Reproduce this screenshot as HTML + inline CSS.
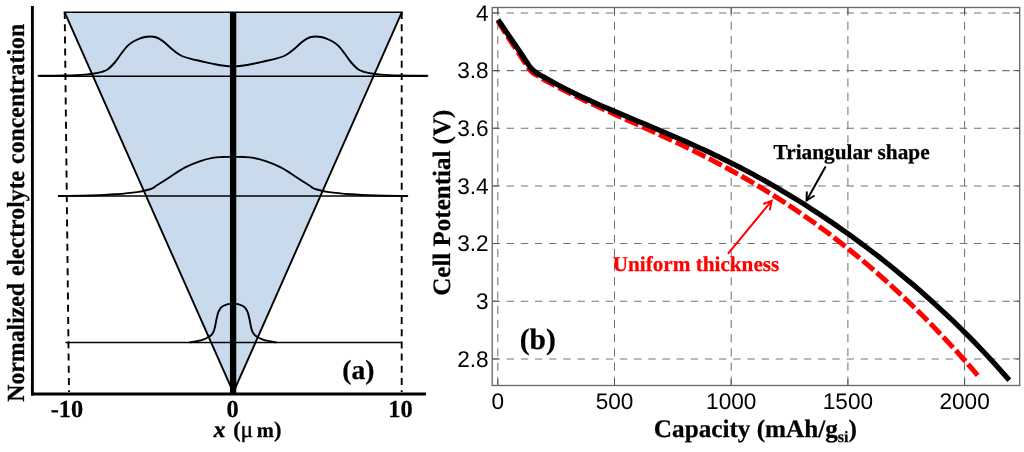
<!DOCTYPE html>
<html><head><meta charset="utf-8"><title>Figure</title>
<style>
html,body{margin:0;padding:0;background:#fff;}
svg{display:block;will-change:transform;opacity:0.999;}
text{text-rendering:geometricPrecision;}
.s{font-family:"Liberation Serif","DejaVu Serif",serif;font-weight:bold;}
.s text{stroke:#000;stroke-width:0.25px;}
.s text.r{stroke:#f00;}
.a{font-family:"Liberation Sans","DejaVu Sans",sans-serif;font-size:22.6px;fill:#000;}
</style></head>
<body>
<svg width="1024" height="452" viewBox="0 0 1024 452">
<rect width="1024" height="452" fill="#fff"/>
<!-- LEFT PANEL -->
<polygon points="64.6,12.2 401.9,12.2 233.3,392.5" fill="#cadaed"/>
<polyline points="64.6,12.2 233.3,392.5 401.9,12.2" fill="none" stroke="#000" stroke-width="1.9" stroke-linejoin="miter"/>
<line x1="63.8" y1="12.2" x2="402.7" y2="12.2" stroke="#000" stroke-width="1.4"/>
<g stroke="#000" stroke-width="1.5" fill="none">
<line x1="38.5" y1="76.2" x2="427.5" y2="76.2"/>
<line x1="58.7" y1="196" x2="407.3" y2="196"/>
<line x1="65.4" y1="342.6" x2="401.5" y2="342.6"/>
</g>
<g stroke="#000" stroke-width="1.9" fill="none" stroke-linejoin="round" stroke-linecap="round">
<path d="M38.5 75.6 C42.9 75.6 57.2 75.6 65.0 75.4 C72.8 75.2 80.3 74.9 85.0 74.6 C89.7 74.3 90.5 74.1 93.3 73.6 C96.1 73.1 99.6 72.5 102.0 71.8 C104.4 71.1 105.7 70.9 107.9 69.3 C110.1 67.7 113.0 64.5 115.2 62.0 C117.4 59.5 119.0 56.6 121.0 54.0 C123.0 51.4 125.3 48.2 127.3 46.2 C129.3 44.2 131.0 43.1 133.0 41.8 C135.0 40.5 137.5 39.4 139.5 38.6 C141.5 37.8 143.2 37.4 145.0 37.0 C146.8 36.6 148.7 36.5 150.4 36.5 C152.1 36.5 153.6 36.6 155.0 37.0 C156.4 37.4 157.5 37.8 159.0 38.6 C160.5 39.4 162.4 40.7 164.0 42.0 C165.6 43.3 166.9 44.6 168.7 46.2 C170.5 47.8 173.0 50.0 175.0 51.5 C177.0 53.0 178.4 54.3 180.9 55.5 C183.4 56.7 186.8 57.7 190.0 58.6 C193.2 59.5 196.1 60.1 200.3 61.0 C204.5 61.9 210.1 63.3 215.0 64.2 C219.9 65.1 227.0 66.0 230.0 66.4 C233.0 66.8 232.0 66.6 233.0 66.6 C234.0 66.6 233.0 66.8 236.0 66.4 C239.0 66.0 246.1 65.1 251.0 64.2 C255.9 63.3 261.5 61.9 265.7 61.0 C269.9 60.1 272.8 59.5 276.0 58.6 C279.2 57.7 282.6 56.7 285.1 55.5 C287.6 54.3 289.0 53.0 291.0 51.5 C293.0 50.0 295.5 47.8 297.3 46.2 C299.1 44.6 300.4 43.3 302.0 42.0 C303.6 40.7 305.5 39.4 307.0 38.6 C308.5 37.8 309.6 37.4 311.0 37.0 C312.4 36.6 313.9 36.5 315.6 36.5 C317.3 36.5 319.2 36.6 321.0 37.0 C322.8 37.4 324.5 37.8 326.5 38.6 C328.5 39.4 331.0 40.5 333.0 41.8 C335.0 43.1 336.7 44.2 338.7 46.2 C340.7 48.2 343.0 51.4 345.0 54.0 C347.0 56.6 348.6 59.5 350.8 62.0 C353.0 64.5 355.9 67.7 358.1 69.3 C360.3 70.9 361.6 71.1 364.0 71.8 C366.4 72.5 369.9 73.1 372.7 73.6 C375.5 74.1 376.3 74.3 381.0 74.6 C385.7 74.9 393.2 75.2 401.0 75.4 C408.8 75.6 423.1 75.6 427.5 75.6"/>
<path d="M58.7 196.0 C64.0 195.9 81.4 195.8 90.8 195.5 C100.2 195.2 107.5 194.9 115.2 194.3 C122.9 193.7 131.3 192.9 137.0 192.1 C142.7 191.3 146.5 190.2 149.2 189.5 C151.9 188.8 151.8 188.7 153.0 188.0 C154.2 187.3 154.8 186.6 156.5 185.5 C158.2 184.4 160.6 183.1 163.0 181.5 C165.4 179.9 167.3 178.6 171.1 176.2 C174.9 173.8 180.8 169.7 185.7 167.2 C190.6 164.7 195.8 162.6 200.3 161.1 C204.8 159.6 208.8 158.6 212.5 157.9 C216.2 157.2 218.8 157.2 222.2 157.0 C225.6 156.8 229.4 156.9 233.0 156.9 C236.6 156.9 240.4 156.8 243.8 157.0 C247.2 157.2 249.8 157.2 253.5 157.9 C257.1 158.6 261.2 159.6 265.7 161.1 C270.2 162.6 275.4 164.7 280.3 167.2 C285.2 169.7 291.1 173.8 294.9 176.2 C298.7 178.6 300.6 179.9 303.0 181.5 C305.4 183.1 307.8 184.4 309.5 185.5 C311.2 186.6 311.8 187.3 313.0 188.0 C314.2 188.7 314.1 188.8 316.8 189.5 C319.5 190.2 323.3 191.3 329.0 192.1 C334.7 192.9 343.1 193.7 350.8 194.3 C358.5 194.9 365.8 195.2 375.2 195.5 C384.6 195.8 401.9 195.9 407.3 196.0"/>
<path d="M189.9 342.4 C191.4 342.1 196.7 341.3 199.2 340.7 C201.7 340.1 203.4 339.4 205.0 338.8 C206.6 338.2 207.4 337.7 208.5 337.0 C209.6 336.3 210.6 335.8 211.5 334.8 C212.4 333.8 213.2 332.7 213.8 331.2 C214.4 329.7 214.8 327.9 215.2 326.0 C215.6 324.1 216.0 321.7 216.4 319.8 C216.8 317.9 217.2 316.1 217.6 314.5 C218.0 312.9 218.5 311.6 219.1 310.5 C219.7 309.4 220.3 308.4 221.0 307.6 C221.7 306.9 222.2 306.5 223.1 306.0 C224.0 305.5 225.3 305.0 226.5 304.6 C227.7 304.2 228.9 304.0 230.0 303.9 C231.1 303.8 232.0 303.7 233.0 303.7 C234.0 303.7 234.9 303.8 236.0 303.9 C237.1 304.0 238.3 304.2 239.5 304.6 C240.7 305.0 242.0 305.5 242.9 306.0 C243.8 306.5 244.3 306.9 245.0 307.6 C245.7 308.4 246.3 309.4 246.9 310.5 C247.5 311.6 248.0 312.9 248.4 314.5 C248.8 316.1 249.2 317.9 249.6 319.8 C250.0 321.7 250.4 324.1 250.8 326.0 C251.2 327.9 251.6 329.7 252.2 331.2 C252.8 332.7 253.6 333.8 254.5 334.8 C255.4 335.8 256.4 336.3 257.5 337.0 C258.6 337.7 259.4 338.2 261.0 338.8 C262.6 339.4 264.3 340.1 266.8 340.7 C269.3 341.3 274.6 342.1 276.1 342.4"/>
</g>
<g stroke="#000" stroke-width="1.9" stroke-dasharray="7 5.2" fill="none">
<line x1="64.7" y1="12" x2="69" y2="392"/>
<line x1="401.7" y1="12" x2="401.7" y2="392"/>
</g>
<line x1="233.1" y1="12" x2="233.1" y2="393" stroke="#000" stroke-width="6.3"/>
<line x1="32.4" y1="6" x2="32.4" y2="395.5" stroke="#000" stroke-width="2.9"/>
<line x1="31" y1="394" x2="426" y2="394" stroke="#000" stroke-width="3.2"/>
<g class="s" font-size="24.4" fill="#000">
<text x="67" y="417" text-anchor="middle">-10</text>
<text x="232.5" y="417" text-anchor="middle">0</text>
<text x="400.5" y="417" text-anchor="middle">10</text>
<text y="437" font-size="22.5"><tspan x="213.8" font-style="italic" font-size="23" stroke="#000" stroke-width="0.55">x</tspan><tspan x="233.2">(</tspan><tspan x="240.4" font-weight="normal" font-size="23.5" stroke="#000" stroke-width="0.4">μ</tspan><tspan x="256.8" font-size="20.5">m</tspan><tspan x="274">)</tspan></text>
<text x="358.3" y="379.2" text-anchor="middle" font-size="27.5">(a)</text>
<text transform="translate(23.9,0) rotate(-90) scale(0.967,1)" font-size="24.6"><tspan x="-415.5">Normalized</tspan> <tspan x="-285.5">electrolyte</tspan> <tspan x="-169.5">concentration</tspan></text>
</g>
<!-- RIGHT PANEL -->
<g stroke="#666" stroke-width="0.95" stroke-dasharray="8.2 6" fill="none"><line x1="497.8" y1="7.5" x2="497.8" y2="385.5"/><line x1="614.5" y1="7.5" x2="614.5" y2="385.5"/><line x1="731.2" y1="7.5" x2="731.2" y2="385.5"/><line x1="847.9" y1="7.5" x2="847.9" y2="385.5"/><line x1="964.6" y1="7.5" x2="964.6" y2="385.5"/></g>
<g stroke="#747474" stroke-width="1.05" stroke-dasharray="7.4 6.76" fill="none"><line x1="492.5" y1="12.9" x2="1019.7" y2="12.9"/><line x1="492.5" y1="70.6" x2="1019.7" y2="70.6"/><line x1="492.5" y1="128.2" x2="1019.7" y2="128.2"/><line x1="492.5" y1="185.9" x2="1019.7" y2="185.9"/><line x1="492.5" y1="243.5" x2="1019.7" y2="243.5"/><line x1="492.5" y1="301.2" x2="1019.7" y2="301.2"/><line x1="492.5" y1="358.9" x2="1019.7" y2="358.9"/></g>
<g stroke="#444" stroke-width="0.85" fill="none"><line x1="497.8" y1="7.5" x2="497.8" y2="13.8"/><line x1="497.8" y1="385.5" x2="497.8" y2="379.2"/><line x1="614.5" y1="7.5" x2="614.5" y2="13.8"/><line x1="614.5" y1="385.5" x2="614.5" y2="379.2"/><line x1="731.2" y1="7.5" x2="731.2" y2="13.8"/><line x1="731.2" y1="385.5" x2="731.2" y2="379.2"/><line x1="847.9" y1="7.5" x2="847.9" y2="13.8"/><line x1="847.9" y1="385.5" x2="847.9" y2="379.2"/><line x1="964.6" y1="7.5" x2="964.6" y2="13.8"/><line x1="964.6" y1="385.5" x2="964.6" y2="379.2"/><line x1="492.2" y1="12.9" x2="498.7" y2="12.9"/><line x1="1019.7" y1="12.9" x2="1013.2" y2="12.9"/><line x1="492.2" y1="70.6" x2="498.7" y2="70.6"/><line x1="1019.7" y1="70.6" x2="1013.2" y2="70.6"/><line x1="492.2" y1="128.2" x2="498.7" y2="128.2"/><line x1="1019.7" y1="128.2" x2="1013.2" y2="128.2"/><line x1="492.2" y1="185.9" x2="498.7" y2="185.9"/><line x1="1019.7" y1="185.9" x2="1013.2" y2="185.9"/><line x1="492.2" y1="243.5" x2="498.7" y2="243.5"/><line x1="1019.7" y1="243.5" x2="1013.2" y2="243.5"/><line x1="492.2" y1="301.2" x2="498.7" y2="301.2"/><line x1="1019.7" y1="301.2" x2="1013.2" y2="301.2"/><line x1="492.2" y1="358.9" x2="498.7" y2="358.9"/><line x1="1019.7" y1="358.9" x2="1013.2" y2="358.9"/></g>
<rect x="492.2" y="7.5" width="527.5" height="378" fill="none" stroke="#6a6a6a" stroke-width="1.35"/>
<path d="M497.8 20.6 C499.2 22.9 503.5 30.0 506.4 34.6 C509.3 39.2 512.4 43.8 515.2 48.0 C518.0 52.2 520.9 56.5 523.2 60.0 C525.6 63.5 527.7 67.1 529.3 69.2 C530.9 71.3 530.8 71.3 532.6 72.6 C534.4 73.9 537.8 75.8 540.0 77.2 C542.2 78.6 542.7 78.9 546.0 80.8 C549.3 82.6 555.3 85.9 560.0 88.3 C564.7 90.7 569.3 93.0 574.0 95.3 C578.7 97.6 583.3 99.9 588.0 102.1 C592.7 104.3 597.3 106.4 602.0 108.6 C606.7 110.7 611.3 112.8 616.0 115.0 C620.7 117.1 625.3 119.1 630.0 121.2 C634.7 123.3 639.3 125.4 644.0 127.6 C648.7 129.7 653.3 131.8 658.0 133.9 C662.7 136.1 667.3 138.2 672.0 140.4 C676.7 142.6 681.3 144.8 686.0 147.1 C690.7 149.4 695.3 151.7 700.0 154.0 C704.7 156.4 709.3 158.7 714.0 161.2 C718.7 163.6 723.3 166.1 728.0 168.7 C732.7 171.2 737.3 173.8 742.0 176.5 C746.7 179.1 751.3 181.8 756.0 184.6 C760.7 187.4 765.3 190.3 770.0 193.2 C774.7 196.1 779.3 199.1 784.0 202.1 C788.7 205.2 793.3 208.3 798.0 211.5 C802.7 214.7 807.3 218.0 812.0 221.3 C816.7 224.6 821.3 228.1 826.0 231.6 C830.7 235.1 835.3 238.6 840.0 242.3 C844.7 245.9 849.3 249.7 854.0 253.5 C858.7 257.3 863.3 261.2 868.0 265.2 C872.7 269.1 877.3 273.2 882.0 277.3 C886.7 281.5 891.3 285.7 896.0 290.1 C900.7 294.4 905.3 298.8 910.0 303.3 C914.7 307.8 919.3 312.4 924.0 317.1 C928.7 321.8 933.3 326.5 938.0 331.4 C942.7 336.3 947.3 341.3 952.0 346.4 C956.7 351.4 961.3 356.6 966.0 361.9 C970.7 367.3 977.9 375.7 980.3 378.5" fill="none" stroke="#f00" stroke-width="5" stroke-dasharray="14.5 4"/>
<path d="M498.1 19.6 C499.6 21.8 504.0 28.6 507.0 33.0 C510.0 37.4 513.2 41.8 516.0 46.0 C518.8 50.2 521.6 54.5 524.0 58.0 C526.4 61.5 528.8 65.2 530.4 67.3 C532.0 69.4 531.9 69.2 533.5 70.5 C535.1 71.8 537.9 73.7 540.0 75.0 C542.1 76.3 542.7 76.4 546.0 78.2 C549.3 80.1 555.3 83.5 560.0 86.0 C564.7 88.5 569.3 90.8 574.0 93.1 C578.7 95.4 583.3 97.6 588.0 99.7 C592.7 101.8 597.3 103.9 602.0 106.0 C606.7 108.0 611.3 110.0 616.0 112.0 C620.7 114.0 625.3 115.9 630.0 117.9 C634.7 119.8 639.3 121.8 644.0 123.7 C648.7 125.7 653.3 127.6 658.0 129.6 C662.7 131.6 667.3 133.6 672.0 135.6 C676.7 137.6 681.3 139.6 686.0 141.7 C690.7 143.8 695.3 145.9 700.0 148.0 C704.7 150.2 709.3 152.3 714.0 154.6 C718.7 156.8 723.3 159.1 728.0 161.4 C732.7 163.7 737.3 166.1 742.0 168.5 C746.7 171.0 751.3 173.4 756.0 176.0 C760.7 178.5 765.3 181.1 770.0 183.8 C774.7 186.4 779.3 189.1 784.0 191.9 C788.7 194.7 793.3 197.5 798.0 200.4 C802.7 203.3 807.3 206.2 812.0 209.3 C816.7 212.3 821.3 215.3 826.0 218.5 C830.7 221.6 835.3 224.8 840.0 228.1 C844.7 231.3 849.3 234.7 854.0 238.1 C858.7 241.5 863.3 244.9 868.0 248.5 C872.7 252.0 877.3 255.6 882.0 259.2 C886.7 262.9 891.3 266.6 896.0 270.4 C900.7 274.3 905.3 278.1 910.0 282.1 C914.7 286.1 919.3 290.1 924.0 294.2 C928.7 298.3 933.3 302.5 938.0 306.8 C942.7 311.1 947.3 315.5 952.0 319.9 C956.7 324.4 961.3 329.0 966.0 333.7 C970.7 338.3 975.3 343.1 980.0 348.0 C984.7 352.9 989.1 357.6 994.0 363.0 C998.9 368.4 1006.8 377.4 1009.3 380.3" fill="none" stroke="#000" stroke-width="5.2" stroke-linecap="butt"/>
<g class="a"><text x="497.8" y="408.8" text-anchor="middle">0</text><text x="614.5" y="408.8" text-anchor="middle">500</text><text x="731.2" y="408.8" text-anchor="middle">1000</text><text x="847.9" y="408.8" text-anchor="middle">1500</text><text x="964.6" y="408.8" text-anchor="middle">2000</text><text x="488.6" y="20.6" text-anchor="end">4</text><text x="488.6" y="78.3" text-anchor="end">3.8</text><text x="488.6" y="135.9" text-anchor="end">3.6</text><text x="488.6" y="193.6" text-anchor="end">3.4</text><text x="488.6" y="251.2" text-anchor="end">3.2</text><text x="488.6" y="308.9" text-anchor="end">3</text><text x="488.6" y="366.6" text-anchor="end">2.8</text></g>
<g class="s" fill="#000">
<text x="755.4" y="437" text-anchor="middle" font-size="25.2">Capacity (mAh/g<tspan font-size="16" dy="5">si</tspan><tspan dy="-5">)</tspan></text>
<text transform="translate(449.5,202.7) rotate(-90)" text-anchor="middle" font-size="25">Cell Potential (V)</text>
<text x="537.8" y="348.8" text-anchor="middle" font-size="29.5">(b)</text>
<rect x="771" y="143.5" width="161" height="21" fill="#fff"/>
<text x="851.6" y="158.5" text-anchor="middle" font-size="21.3">Triangular shape</text>
<text x="696" y="271.3" text-anchor="middle" font-size="21.2" fill="#f00" class="r">Uniform thickness</text>
</g>
<!-- arrows -->
<g stroke="#000" stroke-width="2" fill="none" stroke-linecap="round" stroke-linejoin="miter">
<line x1="825.2" y1="167.2" x2="807" y2="199.7"/>
<polyline points="806.8,192.3 806.6,200.4 813.9,196"/>
</g>
<g stroke="#f00" stroke-width="2" fill="none" stroke-linecap="round" stroke-linejoin="miter">
<line x1="728.5" y1="253.2" x2="771.2" y2="201.3"/>
<polyline points="764,203.7 771.6,200.8 769.9,209.5"/>
</g>
</svg>
</body></html>
